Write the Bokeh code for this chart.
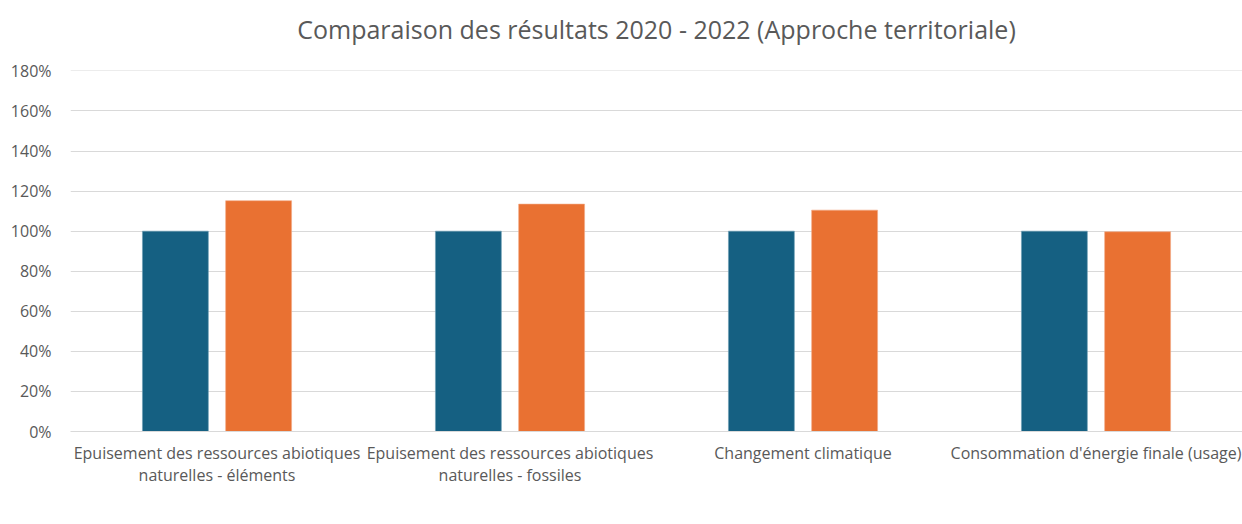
from bokeh.plotting import figure
from bokeh.models import ColumnDataSource, Range1d, FixedTicker, NumeralTickFormatter, Legend, LegendItem, Title
from bokeh.embed import file_html
from bokeh.resources import INLINE

categories = [
    "Epuisement des ressources abiotiques\nnaturelles - éléments",
    "Epuisement des ressources abiotiques\nnaturelles - fossiles",
    "Changement climatique",
    "Consommation d'énergie finale (usage)",
]
etude_2020 = [1.00, 1.00, 1.00, 1.00]
territoriale_2022 = [1.152, 1.135, 1.105, 0.997]
series_names = ["Etude ADEME-Arcep - données 2020", "Approche territoriale 2022"]
y_ticks = [0, 0.2, 0.4, 0.6, 0.8, 1.0, 1.2, 1.4, 1.6, 1.8]
title_text = "Comparaison des résultats 2020 - 2022 (Approche territoriale)"

BLUE = "#156082"
ORANGE = "#E97132"
TXT = "#595959"
FONT = "Open Sans"

xs = list(range(len(categories)))
src = ColumnDataSource(dict(
    x1=[x - 0.142 for x in xs], x2=[x + 0.142 for x in xs],
    a=etude_2020, b=territoriale_2022,
))

p = figure(title=None, frame_width=1172, frame_height=361, output_backend="svg", toolbar_location=None,
           x_range=Range1d(-0.5, 3.5), y_range=Range1d(0, 1.802),
           min_border_left=70, min_border_right=0, min_border_top=70, min_border_bottom=0)

spacer = Title(text=" ", text_font_size="1px", standoff=22)
p.add_layout(spacer, "above")
title = Title(text=title_text, align="center", text_font=FONT, text_font_size="25px",
              text_font_style="normal", text_color=TXT, standoff=0)
p.add_layout(title, "above")

r1 = p.vbar(x="x1", top="a", width=0.225, source=src, fill_color=BLUE, line_color="#6f9fb5", line_width=0.6)
r2 = p.vbar(x="x2", top="b", width=0.225, source=src, fill_color=ORANGE, line_color="#f3aa84", line_width=0.6)

p.outline_line_color = None
p.xgrid.grid_line_color = None
p.ygrid.grid_line_color = "#D9D9D9"
p.ygrid.grid_line_width = 1

p.yaxis.ticker = FixedTicker(ticks=y_ticks)
p.yaxis.formatter = NumeralTickFormatter(format="0%")
p.yaxis.axis_line_color = None
p.yaxis.major_tick_line_color = None
p.yaxis.minor_tick_line_color = None
p.yaxis.major_label_text_font = FONT
p.yaxis.major_label_text_font_size = "16px"
p.yaxis.major_label_text_color = TXT
p.yaxis.major_label_standoff = 13

p.xaxis.ticker = FixedTicker(ticks=xs)
p.xaxis.major_label_overrides = {i: c for i, c in enumerate(categories)}
p.xaxis.axis_line_color = "#D9D9D9"
p.xaxis.major_tick_line_color = None
p.xaxis.minor_tick_line_color = None
p.xaxis.major_label_text_font = FONT
p.xaxis.major_label_text_font_size = "16px"
p.xaxis.major_label_text_color = TXT
p.xaxis.major_label_text_line_height = 1.0
p.xaxis.major_label_standoff = 4

legend = Legend(items=[LegendItem(label=series_names[0], renderers=[r1]),
                       LegendItem(label=series_names[1], renderers=[r2])],
                orientation="horizontal", location=(310, 16),
                label_text_font=FONT, label_text_font_size="15.5px", label_text_color=TXT,
                label_text_line_height=1.0, label_height=12,
                glyph_width=10, glyph_height=10, spacing=43, padding=0, margin=0,
                border_line_color=None, background_fill_alpha=0, label_standoff=3)
p.add_layout(legend, "below")

open("out.html", "w").write(file_html(p, INLINE))
